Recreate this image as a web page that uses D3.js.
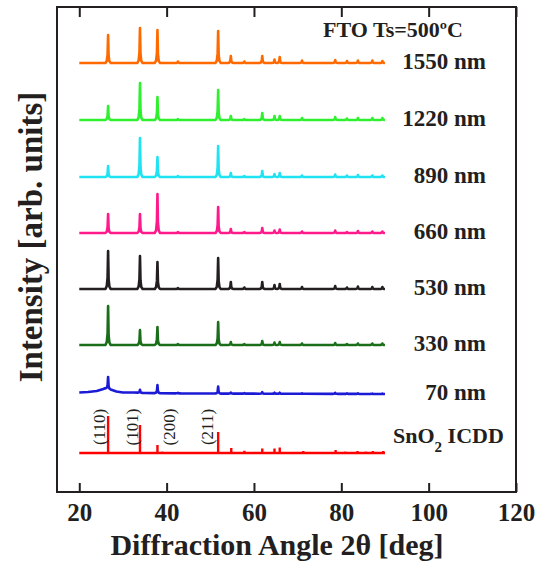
<!DOCTYPE html>
<html>
  <head>
    <meta charset="utf-8">
    <title>FTO XRD</title>
    <script src="https://d3js.org/d3.v7.min.js"></script>
    <style>
      body { margin: 0; background: #fff; }
      text { font-family: "Liberation Serif", "Times New Roman", serif; fill: #231f20; }
    </style>
  </head>
  <body>
    <svg id="chart" width="544" height="572"></svg>
    <script>
      // peak positions (2theta) shared by the film patterns
      const peakPos = [26.6, 33.9, 37.9, 42.6, 51.8, 54.7, 57.8, 61.9, 64.7, 65.9, 71.0, 78.6, 81.3, 83.8, 87.1, 89.4];
      // peak heights, one array per film thickness
      const h1550 = [28, 35, 33, 1.5, 32, 7, 1.5, 7, 3.5, 6, 2.5, 3, 2, 2.5, 2.5, 2];
      const h1220 = [14, 37, 23, 1, 30, 4, 1, 7, 4, 4, 2, 3, 1.5, 2, 2, 2];
      const h890 = [11, 39, 20, 1, 31, 4, 1, 6, 3, 4, 1.5, 2.5, 1.5, 2, 1.5, 1.5];
      const h660 = [19, 19, 39, 1, 26, 4, 1, 5, 2.5, 3.5, 1.5, 2.5, 1, 2, 1.5, 1.5];
      const h530 = [38, 33, 27, 1, 31, 7, 1.5, 7, 4, 5, 2, 3, 1.5, 2.5, 2, 2];
      const h330 = [39, 15, 18, 1, 23, 3, 1, 4, 2.5, 3, 1.5, 2, 1, 1.5, 1.5, 1.5];
      const h70 = [12, 3, 8, 0.5, 7, 1, 0.5, 1.5, 1, 1, 0.5, 1, 0.5, 0.5, 0.5, 0.5];
      // background of the thinnest film (amorphous hump), others are flat
      const bgFlat = [[20, 0], [90, 0]];
      const bg70 = [[20, 1.5], [22, 2], [24, 3], [25.5, 5], [25.9, 5.7], [27.2, 4.5], [28.5, 2.5], [30, 1.5], [32.5, 1.5], [35, 1], [45, 0.5], [90, 0]];
      // ICDD reference sticks
      const icddPos = [26.6, 33.9, 37.9, 39.0, 51.8, 54.8, 57.8, 61.9, 64.7, 65.9, 71.3, 78.7, 80.9, 83.7, 85.6, 87.2, 89.6];
      const icddH = [37, 28, 8, 1.5, 21, 5, 2.3, 4.5, 4.5, 5.5, 2, 3, 1.5, 2, 1.5, 2, 2];
      const millerLabels = ["(110)", "(101)", "(200)", "(211)"];
      const millerPos = [26.6, 33.9, 37.9, 51.8];
      // sample labels and vertical offsets of each pattern
      const sampleLabels = ["1550 nm", "1220 nm", "890 nm", "660 nm", "530 nm", "330 nm", "70 nm"];
      const sampleHeights = [h1550, h1220, h890, h660, h530, h330, h70];
      const sampleBg = [bgFlat, bgFlat, bgFlat, bgFlat, bgFlat, bgFlat, bg70];
      const offsets = [429, 372, 315, 259, 203, 147, 98];
      const icddOffset = 39;
      const xTicks = [20, 40, 60, 80, 100, 120];

      const colors = ["#ff6a00", "#2ef02e", "#1fe3f2", "#ff1a8c", "#231f20", "#1a6e1a", "#1b1bd6"];
      const ink = "#231f20";

      const svg = d3.select("#chart");
      const x = d3.scaleLinear().domain([14.9, 120]).range([57, 516]);
      const y = d3.scaleLinear().domain([0, 485]).range([492, 7]);
      const line = d3.line().x(d => x(d[0])).y(d => y(d[1]));

      // build the trace vertices: background points plus a narrow spike per peak
      function tracePoints(heights, bg, off) {
        const base = d3.scaleLinear().domain(bg.map(d => d[0])).range(bg.map(d => d[1]));
        let pts = bg.filter(b => !peakPos.some(p => Math.abs(b[0] - p) < 0.61));
        peakPos.forEach((p, i) => {
          const h = heights[i];
          pts.push([p - 0.6, base(p - 0.6)]);
          pts.push([p - 0.3, base(p - 0.3) + 0.08 * h]);
          pts.push([p - 0.12, base(p - 0.12) + 0.3 * h]);
          pts.push([p, base(p) + h]);
          pts.push([p + 0.12, base(p + 0.12) + 0.25 * h]);
          pts.push([p + 0.3, base(p + 0.3) + 0.06 * h]);
          pts.push([p + 0.6, base(p + 0.6)]);
        });
        pts.sort((a, b) => a[0] - b[0]);
        return pts.map(d => [d[0], d[1] + off]);
      }

      // traces
      sampleHeights.forEach((hs, i) => {
        svg.append("path")
          .attr("d", line(tracePoints(hs, sampleBg[i], offsets[i])))
          .attr("fill", "none")
          .attr("stroke", colors[i])
          .attr("stroke-width", 2.6)
          .attr("stroke-linejoin", "round");
        svg.append("text")
          .attr("x", 486)
          .attr("y", y(offsets[i]) + 6)
          .attr("text-anchor", "end")
          .attr("font-size", 23)
          .attr("font-weight", "bold")
          .text(sampleLabels[i]);
      });

      // ICDD sticks
      let icddPath = d3.path();
      icddPath.moveTo(x(20), y(icddOffset));
      icddPath.lineTo(x(90), y(icddOffset));
      icddPos.forEach((p, i) => {
        icddPath.moveTo(x(p), y(icddOffset));
        icddPath.lineTo(x(p), y(icddOffset + icddH[i]));
      });
      svg.append("path")
        .attr("d", icddPath.toString())
        .attr("fill", "none")
        .attr("stroke", "#ff0000")
        .attr("stroke-width", 2.4);

      const millerDx = [-3, -2, 17.5, -5.5];
      millerLabels.forEach((t, i) => {
        const lx = x(millerPos[i]) + millerDx[i];
        const ly = y(icddOffset) - 26;
        svg.append("text")
          .attr("transform", "translate(" + lx + "," + ly + ") rotate(-90)")
          .attr("text-anchor", "middle")
          .attr("font-size", 17)
          .text(t);
      });

      const icddLabel = svg.append("text")
        .attr("x", 393)
        .attr("y", y(icddOffset) - 10)
        .attr("font-size", 22)
        .attr("font-weight", "bold");
      icddLabel.append("tspan").text("SnO");
      icddLabel.append("tspan").attr("dy", 9).attr("font-size", 15).text("2");
      icddLabel.append("tspan").attr("dy", -9).text(" ICDD");

      svg.append("text")
        .attr("x", 393)
        .attr("y", 37)
        .attr("text-anchor", "middle")
        .attr("font-size", 22)
        .attr("font-weight", "bold")
        .text("FTO Ts=500ºC");

      // axes
      const xAxisBottom = svg.append("g")
        .attr("transform", "translate(0," + y(0) + ")")
        .call(d3.axisBottom(x).tickValues(xTicks).tickSizeInner(-9).tickSizeOuter(0).tickPadding(11));
      xAxisBottom.select(".domain").remove();
      xAxisBottom.selectAll("line").attr("stroke", ink).attr("stroke-width", 2);
      xAxisBottom.selectAll("text")
        .attr("font-size", 25)
        .attr("font-weight", "bold")
        .attr("font-family", "Liberation Serif, serif")
        .attr("fill", ink);

      const xAxisTop = svg.append("g")
        .attr("transform", "translate(0," + y(485) + ")")
        .call(d3.axisTop(x).tickValues(xTicks).tickSizeInner(-10).tickSizeOuter(0).tickFormat(""));
      xAxisTop.select(".domain").remove();
      xAxisTop.selectAll("line").attr("stroke", ink).attr("stroke-width", 2);

      svg.append("rect")
        .attr("x", x.range()[0])
        .attr("y", y.range()[1])
        .attr("width", x.range()[1] - x.range()[0])
        .attr("height", y.range()[0] - y.range()[1])
        .attr("fill", "none")
        .attr("stroke", ink)
        .attr("stroke-width", 2);

      svg.append("text")
        .attr("x", 277)
        .attr("y", 555)
        .attr("text-anchor", "middle")
        .attr("font-size", 30)
        .attr("font-weight", "bold")
        .text("Diffraction Angle 2θ [deg]");

      svg.append("text")
        .attr("transform", "translate(42,237) rotate(-90)")
        .attr("text-anchor", "middle")
        .attr("font-size", 33)
        .attr("font-weight", "bold")
        .text("Intensity [arb. units]");
    </script>
  </body>
</html>
